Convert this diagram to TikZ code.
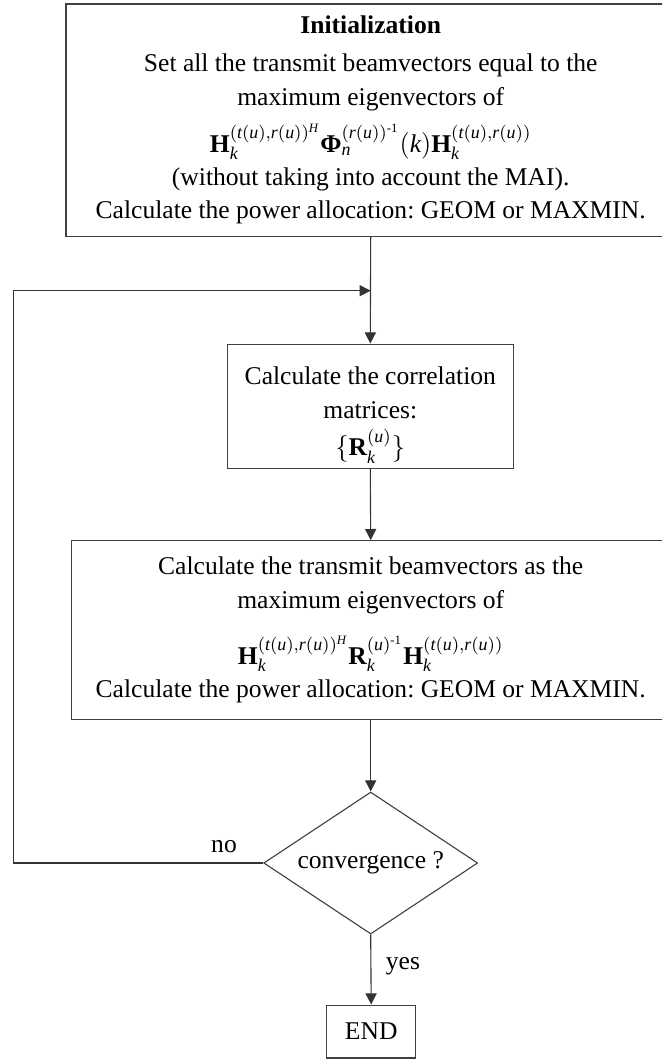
\documentclass[tikz,border=0pt]{standalone}
\usepackage{amsmath}
\usepackage{fontspec}
\setmainfont{Liberation Serif}
\frenchspacing
\usetikzlibrary{arrows.meta,shapes.geometric}
\begin{document}
\begin{tikzpicture}[x=0.45pt,y=-0.45pt,
    font=\fontsize{11.5}{15}\selectfont,
    stepbox/.style={draw=black!75,line width=0.5pt,align=center,inner sep=0pt},
    arr/.style={draw=black!80,line width=0.5pt,-{Triangle[length=5pt,width=5pt]}}]
        \clip (0,0) rectangle (662,1059);
        \node[stepbox,minimum width=274.2pt,minimum height=104.7pt] (init) at (370.7,120.3)
          {\textbf{Initialization}\\[2pt]
           Set all the transmit beamvectors equal to the\\
           maximum eigenvectors of\\[5pt]
           $\textbf{H}_{\textit{k}}^{(\textit{t}(\textit{u}),\textit{r}(\textit{u}))^{\textit{H}}}
            \textbf{Φ}_{\textit{n}}^{(\textit{r}(\textit{u}))^{\text{-1}}}(\textit{k})
            \textbf{H}_{\textit{k}}^{(\textit{t}(\textit{u}),\textit{r}(\textit{u}))}$\\[0pt]
           (without taking into account the MAI).\\
           Calculate the power allocation: GEOM or MAXMIN.};
        \coordinate (join) at (370.7,290.7);
        \node[stepbox,minimum width=128.7pt,minimum height=55.9pt] (corr) at (370.3,406.2)
          {\rule{0pt}{16pt}Calculate the correlation\\
           matrices:\\[2pt]
           $\{\textbf{R}_{\textit{k}}^{(\textit{u})}\}$};
        \node[stepbox,minimum width=269.1pt,minimum height=80.4pt] (beam) at (370.7,630)
          {Calculate the transmit beamvectors as the\\
           maximum eigenvectors of\\[9pt]
           $\textbf{H}_{\textit{k}}^{(\textit{t}(\textit{u}),\textit{r}(\textit{u}))^{\textit{H}}}
            \textbf{R}_{\textit{k}}^{(\textit{u})^{\text{-1}}}
            \textbf{H}_{\textit{k}}^{(\textit{t}(\textit{u}),\textit{r}(\textit{u}))}$\\[0pt]
           Calculate the power allocation: GEOM or MAXMIN.};
        \node[draw=black!75,line width=0.5pt,diamond,aspect=1.507,inner sep=0pt,
          minimum width=96.3pt,minimum height=63.9pt] (conv) at (370.7,863) {convergence ?};
        \coordinate (back) at (13.3,863);
        \node[stepbox,minimum width=40pt,minimum height=23.8pt] (end) at (371.2,1031.5) {END};
        \draw[arr] (init.south) -- (corr.north);
        \draw[arr] (back) |- (join);
        \draw[draw=black!80,line width=0.5pt] (conv.west) -- (back);
        \draw[arr] (corr.south) -- (beam.north);
        \draw[arr] (beam.south) -- (conv.north);
        \draw[arr] (conv.south) -- (end.north);
        \node (no) at (224,847) {no};
        \node (yes) at (403,966) {yes};
      \end{tikzpicture}
\end{document}
